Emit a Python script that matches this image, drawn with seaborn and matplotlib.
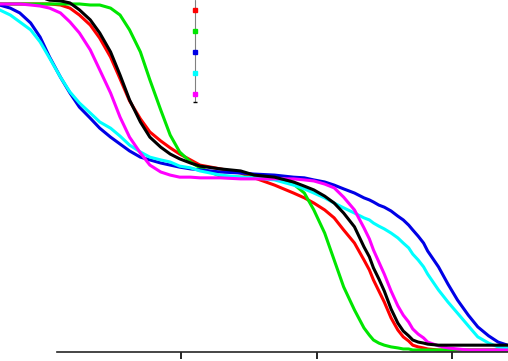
import pandas as pd
import matplotlib.pyplot as plt
from matplotlib.lines import Line2D
import seaborn as sns

# shared x grid (tick positions 1, 2, 3 on the axis)
x_vals = [-0.34, -0.26, -0.19, -0.11, -0.04, 0.03, 0.11, 0.18, 0.25, 0.33,
          0.40, 0.48, 0.55, 0.62, 0.70, 0.77, 0.85, 0.92, 0.99, 1.07,
          1.14, 1.29, 1.44, 1.54, 1.69, 1.83, 1.91, 1.98, 2.06, 2.13,
          2.20, 2.28, 2.35, 2.39, 2.42, 2.46, 2.50, 2.55, 2.60, 2.64,
          2.68, 2.71, 2.75, 2.79, 2.82, 2.90, 2.97, 3.04, 3.12, 3.19,
          3.27, 3.34, 3.41]

# curve values in percent
red = [100.3, 100.3, 100.3, 100.3, 100.3, 100.3, 100.0, 99.1, 97.1, 94.2,
       90.4, 84.9, 78.6, 72.2, 67.0, 63.2, 60.6, 58.6, 56.8, 55.1,
       53.6, 52.5, 51.3, 49.9, 47.8, 45.5, 44.1, 42.6, 40.6, 38.3,
       34.8, 31.0, 26.1, 23.2, 20.3, 17.1, 13.9, 9.3, 5.8, 3.8,
       2.6, 1.4, 0.9, 0.6, 0.3, 0.0, 0.0, 0.0, 0.0, 0.0,
       0.0, 0.0, 0.0]
green = [100.3, 100.3, 100.3, 100.3, 100.3, 100.3, 100.3, 100.3, 100.3, 100.0,
         100.0, 99.1, 97.1, 92.8, 86.4, 78.3, 69.6, 62.3, 57.4, 54.5,
         52.8, 50.4, 50.1, 50.1, 49.9, 48.1, 45.5, 40.6, 33.9, 26.1,
         18.3, 11.6, 6.4, 4.3, 2.9, 2.0, 1.4, 0.9, 0.6, 0.3,
         0.3, 0.0, 0.0, 0.0, 0.0, 0.0, 0.0, 0.0, 0.0, 0.0,
         0.0, 0.0, 0.0]
blue = [100.0, 99.1, 97.7, 94.8, 90.7, 84.9, 79.1, 74.5, 70.4, 67.2,
        64.3, 61.7, 59.7, 57.7, 55.9, 55.1, 54.2, 53.6, 53.0, 52.5,
        52.2, 51.6, 51.3, 51.0, 50.7, 50.1, 49.9, 49.3, 48.7, 47.8,
        46.7, 45.5, 44.1, 43.5, 42.9, 42.0, 41.4, 40.3, 38.8, 37.7,
        36.2, 34.8, 33.0, 31.0, 28.7, 24.1, 19.1, 14.5, 10.1, 6.7,
        4.1, 2.3, 1.4]
cyan = [98.6, 97.1, 95.1, 92.8, 89.3, 84.6, 79.1, 74.8, 71.6, 68.7,
        66.1, 64.3, 62.0, 59.4, 57.4, 55.9, 55.1, 54.5, 53.3, 52.8,
        51.9, 50.7, 50.1, 49.9, 49.3, 47.8, 46.7, 45.5, 44.1, 42.6,
        41.2, 39.7, 38.3, 37.7, 36.8, 35.9, 35.1, 33.9, 32.5, 31.0,
        29.6, 27.8, 26.1, 24.1, 22.0, 17.4, 13.9, 10.7, 7.0, 3.8,
        2.0, 0.9, 0.6]
magenta = [100.3, 100.3, 100.3, 100.0, 99.7, 99.1, 97.7, 95.1, 91.9, 87.0,
           81.2, 74.5, 67.5, 61.7, 57.1, 53.6, 51.6, 50.7, 50.1, 50.1,
           49.9, 49.9, 49.6, 49.6, 49.6, 49.6, 49.3, 49.0, 48.1, 47.0,
           44.3, 40.6, 35.4, 32.2, 29.0, 25.5, 22.0, 17.1, 12.8, 10.1,
           8.1, 6.1, 4.6, 3.5, 2.3, 1.2, 0.6, 0.3, 0.0, 0.0,
           0.0, 0.0, 0.0]
black = [102.6, 102.6, 102.6, 102.6, 102.3, 101.4, 101.2, 100.6, 98.6, 95.7,
         91.9, 86.4, 79.7, 72.5, 66.1, 61.7, 58.8, 56.8, 55.4, 54.2,
         53.3, 52.5, 51.9, 50.7, 50.1, 48.7, 47.5, 46.4, 44.6, 42.6,
         39.7, 35.7, 29.9, 27.0, 23.8, 20.6, 17.1, 11.9, 7.8, 5.5,
         4.1, 2.9, 2.3, 2.0, 1.7, 1.4, 1.4, 1.4, 1.4, 1.4,
         1.4, 1.4, 1.4]

series = {'red': red, 'green': green, 'blue': blue,
          'cyan': cyan, 'magenta': magenta, 'black': black}
colors = {'red': '#ff0000', 'green': '#00e600', 'blue': '#0000e6',
          'cyan': '#00ffff', 'magenta': '#ff00ff', 'black': '#000000'}

rows = []
for name, vals in series.items():
    for x, y in zip(x_vals, vals):
        rows.append({'x': x, 'y': y, 'curve': name})
df = pd.DataFrame(rows)

sns.set_style("ticks")
plt.rcParams['font.family'] = ['DejaVu Sans']

fig = plt.figure(figsize=(5.08, 3.61), dpi=100)
ax = fig.add_axes([0, 9 / 361, 1, 352 / 361])

sns.lineplot(data=df, x='x', y='y', hue='curve', palette=colors,
             hue_order=list(series.keys()), estimator=None, sort=False,
             linewidth=2.2, legend=False, ax=ax)

ax.set_xlim(-0.336, 3.413)
ax.set_ylim(-0.58, 101.45)
ax.set_xticks([1, 2, 3])
ax.set_xticklabels([])
ax.set_yticks([])
ax.set_xlabel('')
ax.set_ylabel('')
sns.despine(ax=ax, left=True)
ax.spines['bottom'].set_bounds(0.085, 3.413)
ax.spines['bottom'].set_linewidth(1.2)
ax.tick_params(axis='x', direction='out', length=5, width=1.2, color='black')

# legend: small coloured markers on a thin grey stem
ax.plot([0.384, 0.384], [1.0, 0.71], color='#808080', linewidth=0.8,
        transform=ax.transAxes, marker='_', markevery=[1],
        markeredgecolor='black', markersize=3)
handles = [Line2D([], [], linestyle='', marker='s', markersize=2.5,
                  color=colors[k]) for k in ['red', 'green', 'blue', 'cyan', 'magenta']]
ax.legend(handles, [''] * 5, loc='upper left', bbox_to_anchor=(0.3785, 0.984),
          frameon=False, fontsize=8, handlelength=0.5, handleheight=1.0,
          handletextpad=0, borderpad=0, borderaxespad=0, labelspacing=0.93)

fig.savefig('out.png', dpi=100)
